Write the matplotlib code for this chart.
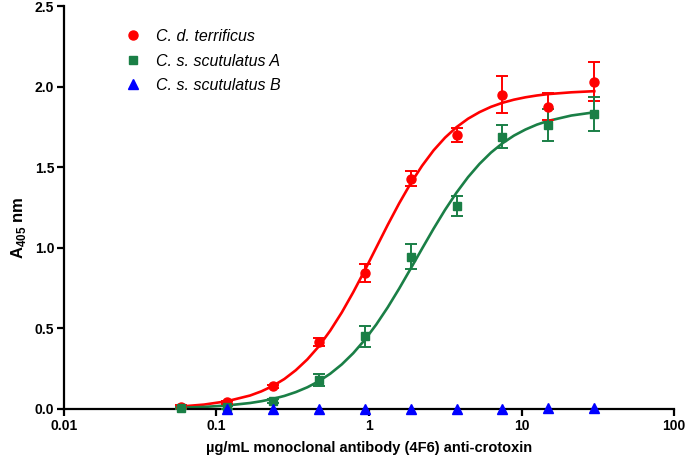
import matplotlib
matplotlib.use('Agg')
import matplotlib.pyplot as plt
from matplotlib.lines import Line2D
from matplotlib.ticker import FixedLocator, NullLocator

plt.rcParams['font.family'] = ['Liberation Sans', 'DejaVu Sans']
plt.rcParams['mathtext.fontset'] = 'custom'
plt.rcParams['mathtext.rm'] = 'Liberation Sans:bold'
plt.rcParams['mathtext.bf'] = 'Liberation Sans:bold'

# doses (ug/mL), two-fold dilutions
dose = [0.0586, 0.117, 0.234, 0.469, 0.9375, 1.875, 3.75, 7.5, 15, 30]
dose_b = [0.117, 0.234, 0.469, 0.9375, 1.875, 3.75, 7.5, 15, 30]

cdt_mean = [0.015, 0.042, 0.14, 0.415, 0.845, 1.43, 1.70, 1.95, 1.875, 2.03]
cdt_err = [0.008, 0.01, 0.012, 0.025, 0.054, 0.045, 0.045, 0.115, 0.084, 0.12]
cssa_mean = [0.005, 0.01, 0.05, 0.18, 0.45, 0.945, 1.26, 1.69, 1.76, 1.83]
cssa_err = [0.005, 0.008, 0.01, 0.04, 0.065, 0.078, 0.06, 0.07, 0.10, 0.105]
cssb_mean = [0.0, 0.0, 0.0, 0.0, 0.0, 0.0, 0.003, 0.008, 0.005]

# fitted curves
fit_x = [0.0586, 0.0829, 0.117, 0.166, 0.197, 0.234, 0.2786, 0.331, 0.394, 0.469,
         0.557, 0.663, 0.788, 0.9375, 1.115, 1.326, 1.576, 1.875, 2.230, 2.652,
         3.152, 3.75, 4.459, 5.303, 6.303, 7.5, 8.917, 10.607, 12.61, 15, 21.21, 30]
fit_cdt = [0.0156, 0.0274, 0.0481, 0.0836, 0.1096, 0.143, 0.1861, 0.2406, 0.3077, 0.389,
           0.4864, 0.599, 0.7245, 0.860, 1.0012, 1.142, 1.2758, 1.400, 1.5096, 1.605,
           1.6837, 1.749, 1.8011, 1.842, 1.8748, 1.900, 1.9193, 1.934, 1.9453, 1.954, 1.965, 1.972]
fit_cssa = [0.0075, 0.0129, 0.0219, 0.0372, 0.0483, 0.0627, 0.0811, 0.1048, 0.1347, 0.1723,
            0.2190, 0.2768, 0.3462, 0.4286, 0.5238, 0.6305, 0.7468, 0.8706, 0.9957, 1.119,
            1.2357, 1.343, 1.4385, 1.521, 1.5909, 1.649, 1.6963, 1.734, 1.7645, 1.788, 1.821, 1.841]

labels = ['C. d. terrificus', 'C. s. scutulatus A', 'C. s. scutulatus B']
xticks = [0.01, 0.1, 1, 10, 100]
xtick_labels = ['0.01', '0.1', '1', '10', '100']
yticks = [0.0, 0.5, 1.0, 1.5, 2.0, 2.5]

RED = '#ff0000'
GREEN = '#1a7f46'
BLUE = '#0000ff'

fig = plt.figure(figsize=(6.85, 4.61), dpi=100)
ax = fig.add_axes([0.0934, 0.1128, 0.8906, 0.874])

ax.plot(fit_x, fit_cdt, color=RED, lw=1.9, zorder=2)
ax.plot(fit_x, fit_cssa, color=GREEN, lw=1.9, zorder=2)

ax.errorbar(dose, cdt_mean, yerr=cdt_err, fmt='o', color=RED, ms=6.5, capsize=4.5,
            elinewidth=1.4, capthick=1.4, zorder=3, clip_on=False)
ax.errorbar(dose, cssa_mean, yerr=cssa_err, fmt='s', color=GREEN, ms=5.8, capsize=4.5,
            elinewidth=1.4, capthick=1.4, zorder=3, clip_on=False)
ax.plot(dose_b, cssb_mean, '^', color=BLUE, ms=6.5, ls='none', zorder=4, clip_on=False)

ax.set_xscale('log')
ax.set_xlim(0.01, 100)
ax.set_ylim(0, 2.5)
ax.xaxis.set_major_locator(FixedLocator(xticks))
ax.xaxis.set_minor_locator(NullLocator())
ax.set_xticklabels(xtick_labels)
ax.set_yticks(yticks)
ax.set_yticklabels([f'{v:.1f}' for v in yticks])

for s in ['top', 'right']:
    ax.spines[s].set_visible(False)
for s in ['left', 'bottom']:
    ax.spines[s].set_linewidth(1.6)
ax.tick_params(width=1.6, length=5, labelsize=10, pad=2)
for t in ax.get_xticklabels() + ax.get_yticklabels():
    t.set_fontweight('bold')

ax.set_xlabel('\u00b5g/mL monoclonal antibody (4F6) anti-crotoxin', fontsize=10.5,
              fontweight='bold', labelpad=6)
ax.set_ylabel(r'A$_{405}$ nm', fontsize=12, fontweight='bold')
ax.yaxis.set_label_coords(-0.059, 0.449)

handles = [Line2D([], [], marker='o', color=RED, ls='none', ms=6.5),
           Line2D([], [], marker='s', color=GREEN, ls='none', ms=5.8),
           Line2D([], [], marker='^', color=BLUE, ls='none', ms=6.5)]
leg = ax.legend(handles, labels, loc='upper left', bbox_to_anchor=(0.077, 0.979), frameon=False,
                fontsize=11.5, handlelength=1.0, handletextpad=0.95, labelspacing=0.6)
for t in leg.get_texts():
    t.set_fontstyle('italic')

fig.savefig('out.png', dpi=100, facecolor='white')
